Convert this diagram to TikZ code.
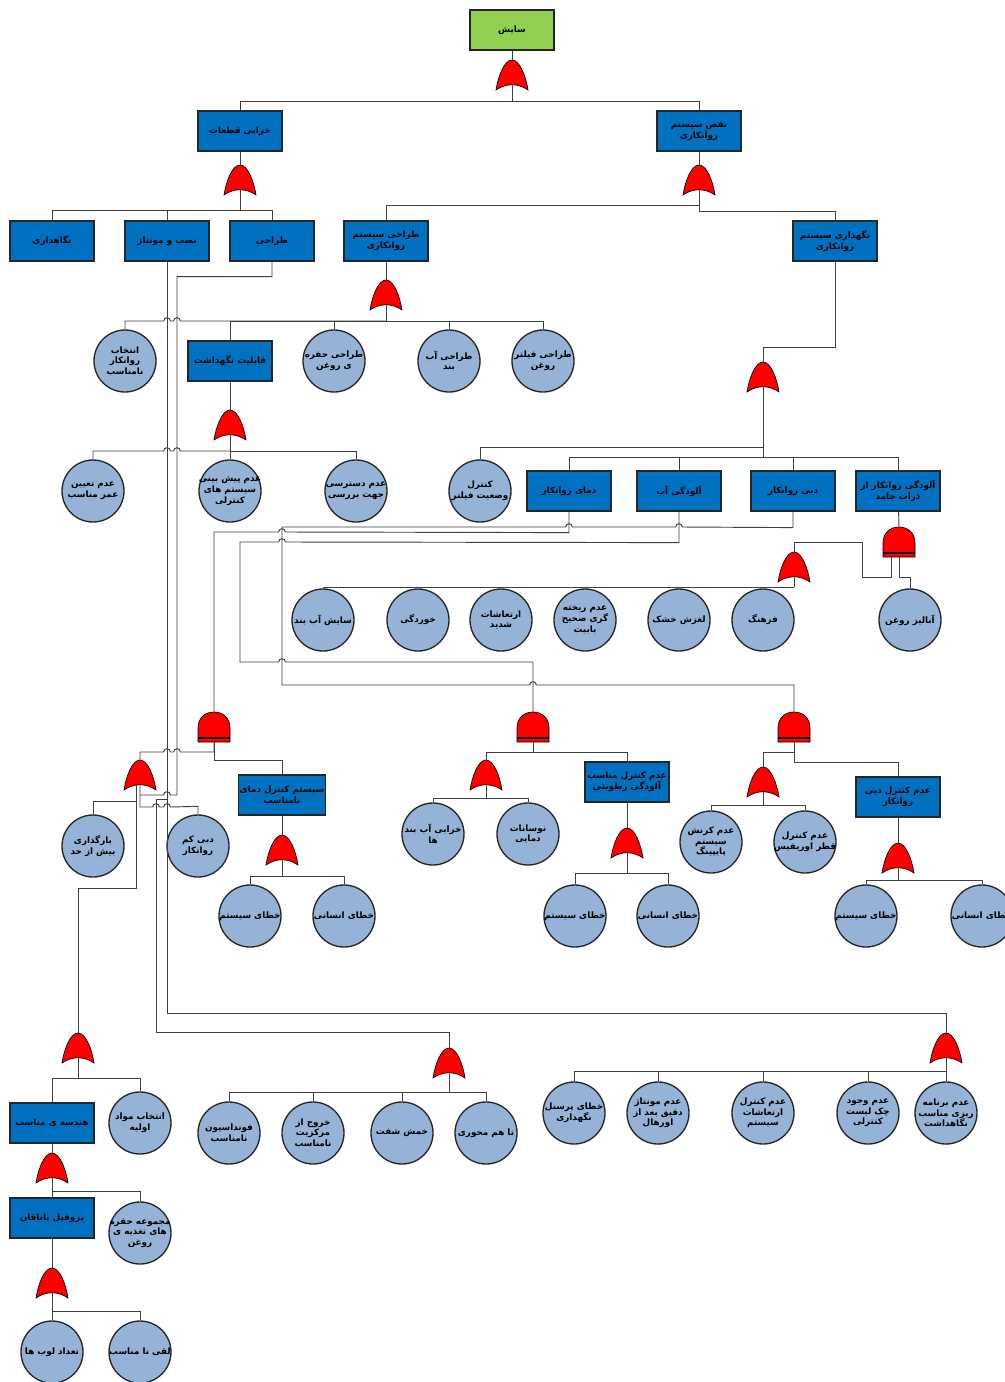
\documentclass[tikz,border=0pt]{standalone}
\usepackage{fontspec}
\newfontfamily\fafont[Script=Arabic]{DejaVu Sans}
\TeXXeTstate=1
\usetikzlibrary{positioning}

\definecolor{topgreen}{HTML}{92D050}
\definecolor{evblue}{HTML}{0070C0}
\definecolor{basicblue}{HTML}{95B3D7}
\definecolor{gatered}{HTML}{FF0000}

\newcommand\rl[1]{\beginR#1\endR}
% hop over a crossing wire, going left / right
\newcommand\hopl[2]{-- ([xshift=2.5pt]#1,#2) arc[start angle=0,end angle=180,radius=2.5pt]}
\newcommand\hopr[2]{-- ([xshift=-2.5pt]#1,#2) arc[start angle=180,end angle=0,radius=2.5pt]}

\tikzset{
  evbox/.style={rectangle, draw=black!85, line width=0.9pt, fill=evblue,
    minimum width=63pt, minimum height=30pt, inner sep=1pt, align=center,
    font=\fafont\bfseries\fontsize{6.6}{8}\selectfont},
  topbox/.style={evbox, fill=topgreen},
  basic/.style={circle, draw=black!85, line width=1pt, fill=basicblue,
    minimum size=46.5pt, inner sep=-3pt, align=center,
    font=\fafont\bfseries\fontsize{6.6}{8}\selectfont},
  wire/.style={draw=black!75, line width=0.7pt},
  orgate/.pic={
    \path[fill=gatered, draw=black, line width=0.5pt] (-16,15)
      .. controls (-14,2) and (-8,-15) .. (0,-15)
      .. controls (8,-15) and (14,2) .. (16,15)
      .. controls (6,8) and (-6,8) .. (-16,15) -- cycle;
    \coordinate (-top) at (0,-15);
    \coordinate (-bot) at (0,10);
  },
  andgate/.pic={
    \path[fill=gatered, draw=black, line width=0.5pt] (-16,15) -- (-16,1)
      .. controls (-16,-9) and (-9,-15) .. (0,-15)
      .. controls (9,-15) and (16,-9) .. (16,1) -- (16,15) -- cycle;
    \draw[line width=1pt] (-16,11) -- (16,11);
    \coordinate (-top) at (0,-15);
    \coordinate (-bot) at (0,15);
  }
}

\begin{document}
\begin{tikzpicture}[x=0.75pt, y=-0.75pt]
  \useasboundingbox[fill=white] (0,0) rectangle (1005,1382);

  % events
  \node[topbox] (T) at (512,30) {\rl{سایش}};
  \node[evbox] (A) at (240,131) {\rl{خرابی قطعات}};
  \node[evbox] (B) at (699,131) {\rl{نقص سیستم}\\\rl{روانکاری}};
  \node[evbox] (A1) at (52,241) {\rl{نگاهداری}};
  \node[evbox] (A2) at (167,241) {\rl{نصب و مونتاژ}};
  \node[evbox] (A3) at (272,241) {\rl{طراحی}};
  \node[evbox] (B1) at (386,241) {\rl{طراحی سیستم}\\\rl{روانکاری}};
  \node[evbox] (B2) at (835,241) {\rl{نگهداری سیستم}\\\rl{روانکاری}};
  \node[evbox] (C2) at (230,361) {\rl{قابلیت نگهداشت}};
  \node[evbox] (E1) at (569,491) {\rl{دمای روانکار}};
  \node[evbox] (E2) at (679,491) {\rl{آلودگی آب}};
  \node[evbox] (E3) at (793,491) {\rl{دبی روانکار}};
  \node[evbox] (E4) at (898,491) {\rl{آلودگی روانکار از}\\\rl{ذرات جامد}};
  \node[evbox] (H) at (282,795) {\rl{سیستم کنترل دمای}\\\rl{نامناسب}};
  \node[evbox] (P) at (627,782) {\rl{عدم کنترل مناسب}\\\rl{آلودگی رطوبتی}};
  \node[evbox] (Q) at (898,797) {\rl{عدم کنترل دبی}\\\rl{روانکار}};
  \node[evbox] (L) at (52,1123) {\rl{هندسه ی مناسب}};
  \node[evbox] (M) at (52,1218) {\rl{پروفیل یاتاقان}};

  % basic events
  \node[basic] (C1) at (125,361) {\rl{انتخاب}\\\rl{روانکار}\\\rl{نامناسب}};
  \node[basic] (C3) at (334,361) {\rl{طراحی حفره}\\\rl{ی روغن}};
  \node[basic] (C4) at (449,361) {\rl{طراحی آب}\\\rl{بند}};
  \node[basic] (C5) at (543,361) {\rl{طراحی فیلتر}\\\rl{روغن}};
  \node[basic] (D1) at (93,491) {\rl{عدم تعیین}\\\rl{عمر مناسب}};
  \node[basic] (D2) at (230,491) {\rl{عدم پیش بینی}\\\rl{سیستم های}\\\rl{کنترلی}};
  \node[basic] (D3) at (356,491) {\rl{عدم دسترسی}\\\rl{جهت بررسی}};
  \node[basic] (E0) at (480,491) {\rl{کنترل}\\\rl{وضعیت فیلتر}};
  \foreach \n/\x/\t in {F1/323/{\rl{سایش آب بند}}, F2/418/{\rl{خوردگی}},
      F3/501/{\rl{ارتعاشات}\\\rl{شدید}}, F4/585/{\rl{عدم ریخته}\\\rl{گری صحیح}\\\rl{بابیت}},
      F5/679/{\rl{لغزش خشک}}, F6/763/{\rl{فرهنگ}}, F7/910/{\rl{آنالیز روغن}}}
    \node[basic] (\n) at (\x,620) {\t};
  \node[basic] (I1) at (93,846) {\rl{بارگذاری}\\\rl{بیش از حد}};
  \node[basic] (I2) at (198,846) {\rl{دبی کم}\\\rl{روانکار}};
  \foreach \n/\x in {H1/250, P3/575, Q3/866}
    \node[basic] (\n) at (\x,916) {\rl{خطای سیستم}};
  \foreach \n/\x in {H2/344, P4/668, Q4/982}
    \node[basic] (\n) at (\x,916) {\rl{خطای انسانی}};
  \node[basic] (P1) at (433,834) {\rl{خرابی آب بند}\\\rl{ها}};
  \node[basic] (P2) at (528,834) {\rl{نوسانات}\\\rl{دمایی}};
  \node[basic] (Q1) at (711,842) {\rl{عدم کرنش}\\\rl{سیستم}\\\rl{پایپینگ}};
  \node[basic] (Q2) at (805,842) {\rl{عدم کنترل}\\\rl{قطر اوریفیس}};
  \foreach \n/\x/\t in {J1/229/{\rl{فونداسیون}\\\rl{نامناسب}}, J2/313/{\rl{خروج از}\\\rl{مرکزیت}\\\rl{نامناسب}},
      J3/402/{\rl{خمش شفت}}, J4/486/{\rl{نا هم محوری}}}
    \node[basic] (\n) at (\x,1133) {\t};
  \foreach \n/\x/\t in {K1/574/{\rl{خطای پرسنل}\\\rl{نگهداری}}, K2/658/{\rl{عدم مونتاژ}\\\rl{دقیق بعد از}\\\rl{اورهال}},
      K3/763/{\rl{عدم کنترل}\\\rl{ارتعاشات}\\\rl{سیستم}}, K4/868/{\rl{عدم وجود}\\\rl{چک لیست}\\\rl{کنترلی}},
      K5/946/{\rl{عدم برنامه}\\\rl{ریزی مناسب}\\\rl{نگاهداشت}}}
    \node[basic] (\n) at (\x,1113) {\t};
  \node[basic] (L2) at (140,1123) {\rl{انتخاب مواد}\\\rl{اولیه}};
  \node[basic] (M2) at (140,1233) {\rl{مجموعه حفره}\\\rl{های تغذیه ی}\\\rl{روغن}};
  \node[basic] (N1) at (52,1352) {\rl{تعداد لوب ها}};
  \node[basic] (N2) at (140,1352) {\rl{لقی نا مناسب}};

  % gates
  \foreach \g/\x/\y in {g0/512/75, g1/240/180, g2/699/180, g3/386/295, g4/230/425,
      g5/763/377, g7/794/567, g11/140/775, g12/282/850, g13/78/1048, g14/946/1048,
      g15/449/1063, g16/52/1168, g17/52/1283, g18/486/775, g19/627/843,
      g20/763/782, g21/898/858}
    \pic (\g) at (\x,\y) {orgate};
  \foreach \g/\x/\y in {g6/899/542, g8/214/727, g9/533/727, g10/794/727}
    \pic (\g) at (\x,\y) {andgate};

  % top levels
  \draw[wire] (T) -- (g0-top);
  \draw[wire] (g0-bot) -- ++(0,16) coordinate (j0) -| (A.north);
  \draw[wire] (j0) -| (B.north);
  \draw[wire] (A) -- (g1-top);
  \draw[wire] (g1-bot) -- ++(0,20) coordinate (j1);
  \foreach \c in {A1,A2,A3}
    \draw[wire] (j1) -| (\c.north);
  \draw[wire] (B) -- (g2-top);
  \draw[wire] (g2-bot) -- ++(0,15) -| (B1.north);
  \draw[wire] (g2-bot) -- ++(0,21) -| (B2.north);

  % design of the lubrication system
  \draw[wire] (B1) -- (g3-top);
  \draw[wire] (g3-bot) -- ++(0,16) coordinate (j3);
  \draw[wire] (j3) \hopl{177}{321} \hopl{167}{321} -| (C1.north);
  \foreach \c in {C2,C3,C4,C5}
    \draw[wire] (j3) -| (\c.north);
  \draw[wire] (C2) -- (g4-top);
  \draw[wire] (g4-bot) -- ++(0,16) coordinate (j4);
  \draw[wire] (j4) \hopl{177}{451} \hopl{167}{451} -| (D1.north);
  \foreach \c in {D2,D3}
    \draw[wire] (j4) -| (\c.north);

  % maintenance of the lubrication system
  \draw[wire] (B2.south) -- ++(0,86) -| (g5-top);
  \draw[wire] (g5-bot) -- ++(0,60) -| (E0.north);
  \draw[wire] (g5-bot) -- ++(0,70) coordinate (j5);
  \foreach \c in {E1,E2,E3,E4}
    \draw[wire] (j5) -| (\c.north);
  \draw[wire] (E4) -- (g6-top);
  \draw[wire] ([xshift=-6pt]g6-bot) |- (862,577) |- (794,542) -- (g7-top);
  \draw[wire] (g6-bot) -- ++(0,20) -| (F7.north);
  \draw[wire] (g7-bot) -- ++(0,10) coordinate (j7);
  \foreach \c in {F1,F2,F3,F4,F5,F6}
    \draw[wire] (j7) -| (\c.north);

  % routes down to the and gates
  \draw[wire] (E1.south) -- ++(0,21) \hopl{282}{532} -| (g8-top);
  \draw[wire] (E2.south) -- ++(0,31) \hopl{282}{542} -- (240,542)
    -- (240,662) \hopr{282}{662} -| (g9-top);
  \draw[wire] (E3.south) -- ++(0,16) \hopl{679}{527} \hopl{569}{527} -- (282,527)
    -- (282,685) \hopr{533}{685} -| (g10-top);

  % lubricant temperature
  \draw[wire] (g8-bot) -- ++(0,18) -| (H.north);
  \draw[wire] (g8-bot) -- ++(0,10) \hopl{177}{752} \hopl{167}{752} -| (g11-top);
  \draw[wire] (H) -- (g12-top);
  \draw[wire] (g12-bot) -- ++(0,16) coordinate (j12);
  \foreach \c in {H1,H2}
    \draw[wire] (j12) -| (\c.north);
  \draw[wire] (I1.north) -- ++(0,-13) -| ([xshift=-3pt]g11-bot);
  \draw[wire] (I2.north) -- ++(0,-8) \hopl{167}{807} \hopl{156}{807} -| (g11-bot);
  \draw[wire] (g13-top) -- ++(0,-145) -| ([xshift=-3pt]g11-bot);

  % long wires of the left branch
  \draw[wire] (A3.south) -- ++(0,15) -| (177,795) \hopl{167}{795} -- (140,795);
  \draw[wire] (A2.south) -- ++(0,752) -| (g14-top);
  \coordinate (b1) at (167,799);
  \draw[wire] (b1) -- (156,799) -- (156,1032) -| (g15-top);

  % water contamination
  \draw[wire] (g9-bot) -- ++(0,10) coordinate (j9) -| (g18-top);
  \draw[wire] (j9) -| (P.north);
  \draw[wire] (g18-bot) -- ++(0,13) coordinate (j18);
  \foreach \c in {P1,P2}
    \draw[wire] (j18) -| (\c.north);
  \draw[wire] (P) -- (g19-top);
  \draw[wire] (g19-bot) -- ++(0,20) coordinate (j19);
  \foreach \c in {P3,P4}
    \draw[wire] (j19) -| (\c.north);

  % lubricant flow
  \draw[wire] (g10-bot) -- ++(0,10) -| (g20-top);
  \draw[wire] (g10-bot) -- ++(0,20) -| (Q.north);
  \draw[wire] (g20-bot) -- ++(0,13) coordinate (j20);
  \foreach \c in {Q1,Q2}
    \draw[wire] (j20) -| (\c.north);
  \draw[wire] (Q) -- (g21-top);
  \draw[wire] (g21-bot) -- ++(0,12) coordinate (j21);
  \foreach \c in {Q3,Q4}
    \draw[wire] (j21) -| (\c.north);

  % bottom rows
  \draw[wire] (g15-bot) -- ++(0,19) coordinate (j15);
  \foreach \c in {J1,J2,J3,J4}
    \draw[wire] (j15) -| (\c.north);
  \draw[wire] (g14-bot) -- ++(0,13) coordinate (j14);
  \foreach \c in {K1,K2,K3,K4,K5}
    \draw[wire] (j14) -| (\c.north);
  \draw[wire] (g13-bot) -- ++(0,20) coordinate (j13);
  \foreach \c in {L,L2}
    \draw[wire] (j13) -| (\c.north);
  \draw[wire] (L) -- (g16-top);
  \draw[wire] (g16-bot) -- (M.north);
  \draw[wire] (g16-bot) -- ++(0,13) -| (M2.north);
  \draw[wire] (M) -- (g17-top);
  \draw[wire] (g17-bot) -- ++(0,18) coordinate (j17);
  \foreach \c in {N1,N2}
    \draw[wire] (j17) -| (\c.north);
\end{tikzpicture}
\end{document}
